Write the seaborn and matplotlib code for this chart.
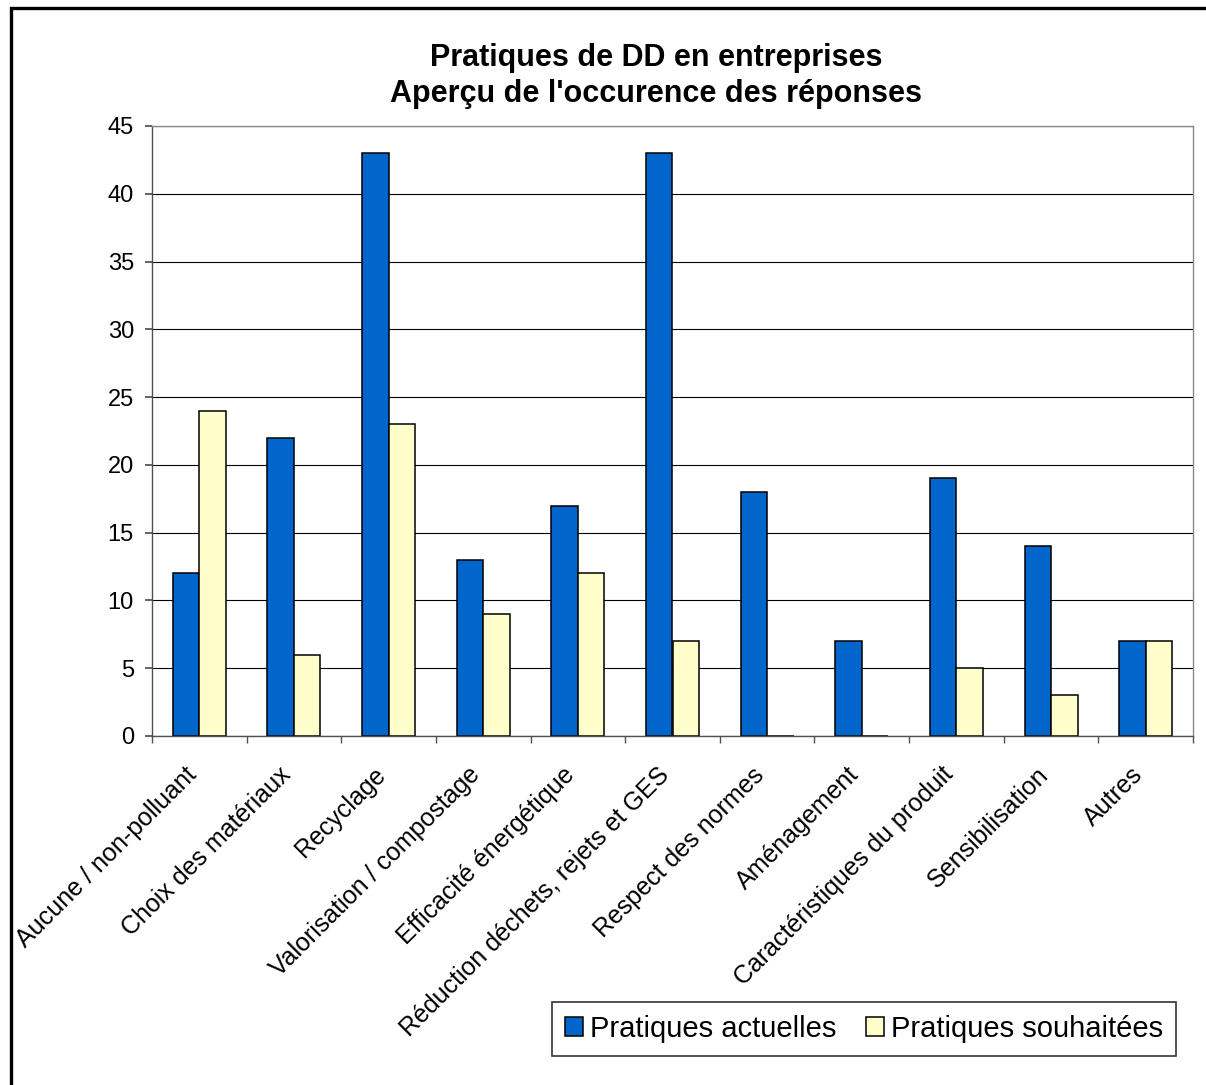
import numpy as np
import pandas as pd
import matplotlib
matplotlib.use("Agg")
import matplotlib.pyplot as plt
import matplotlib.transforms as mtransforms
from matplotlib.patches import Rectangle
import seaborn as sns

# donnees
categories = ["Aucune / non-polluant", "Choix des matériaux", "Recyclage",
              "Valorisation / compostage", "Efficacité énergétique",
              "Réduction déchets, rejets et GES", "Respect des normes",
              "Aménagement", "Caractéristiques du produit", "Sensibilisation",
              "Autres"]
actuelles = [12, 22, 43, 13, 17, 43, 18, 7, 19, 14, 7]
souhaitees = [24, 6, 23, 9, 12, 7, 0, 0, 5, 3, 7]
series = ["Pratiques actuelles", "Pratiques souhaitées"]
yticks = [0, 5, 10, 15, 20, 25, 30, 35, 40, 45]

df = pd.DataFrame({
    "cat": categories * 2,
    "val": actuelles + souhaitees,
    "serie": [series[0]] * len(categories) + [series[1]] * len(categories),
})

sns.set_theme(style="white")
plt.rcParams['font.family'] = ['Liberation Sans', 'DejaVu Sans']
plt.rcParams['text.color'] = 'black'
plt.rcParams['xtick.labelcolor'] = 'black'
plt.rcParams['ytick.labelcolor'] = 'black'

W, H = 1206, 1085
fig = plt.figure(figsize=(W / 100, H / 100), dpi=100)
ax = fig.add_axes([152 / W, 1 - 736 / H, (1193 - 152) / W, (736 - 126) / H])

sns.barplot(data=df, x="cat", y="val", hue="serie", order=categories,
            hue_order=series, palette=["#0066CC", "#FFFFCC"],
            width=0.56, edgecolor="black", linewidth=1.1, saturation=1,
            ax=ax)

ax.set_xlim(-0.5, len(categories) - 0.5)
ax.set_ylim(0, 45)
ax.set_yticks(yticks)
ax.set_xlabel("")
ax.set_ylabel("")
ax.yaxis.grid(True, color="black", linewidth=0.8)
ax.set_axisbelow(True)

for s in ["top", "right"]:
    ax.spines[s].set_color("#8a8a8a")
for s in ["left", "bottom"]:
    ax.spines[s].set_color("#505050")
for s in ax.spines.values():
    s.set_linewidth(1.0)

ax.tick_params(axis="y", labelsize=17, length=5, direction="out",
               color="#505050", pad=8, left=True)
ax.set_xticks(range(len(categories)))
ax.set_xticklabels(categories, rotation=45, ha="right",
                   rotation_mode="anchor", fontsize=18)
ax.tick_params(axis="x", which="major", length=0, pad=17)
shift = mtransforms.ScaledTranslation(-0.15, -0.03, fig.dpi_scale_trans)
for lab in ax.get_xticklabels():
    lab.set_transform(lab.get_transform() + shift)
ax.set_xticks(np.arange(-0.5, len(categories)), minor=True)
ax.tick_params(axis="x", which="minor", length=5, direction="out",
               color="#505050", bottom=True)

handles, labels = ax.get_legend_handles_labels()
ax.legend_.remove()
leg = fig.legend(handles, labels, loc="center", ncol=2,
                 bbox_to_anchor=(864 / W, 1 - 1029 / H), fontsize=21,
                 frameon=True, fancybox=False, handlelength=0.62,
                 handleheight=0.62, handletextpad=0.25, columnspacing=1.0,
                 borderpad=0.45, borderaxespad=0)
leg.get_frame().set_edgecolor("black")
leg.get_frame().set_linewidth(1.2)

fig.text(656 / W, 1 - 66 / H, "Pratiques de DD en entreprises",
         ha="center", va="baseline", fontsize=22, fontweight="bold")
fig.text(656 / W, 1 - 102 / H, "Aperçu de l'occurence des réponses",
         ha="center", va="baseline", fontsize=22, fontweight="bold")

# cadre exterieur du graphique
fig.patches.append(Rectangle((10.5 / W, -0.2), 1.3, 1.2 - 7.5 / H,
                             transform=fig.transFigure, fill=False,
                             edgecolor="black", linewidth=2.4))

fig.savefig("out.png", dpi=100)
